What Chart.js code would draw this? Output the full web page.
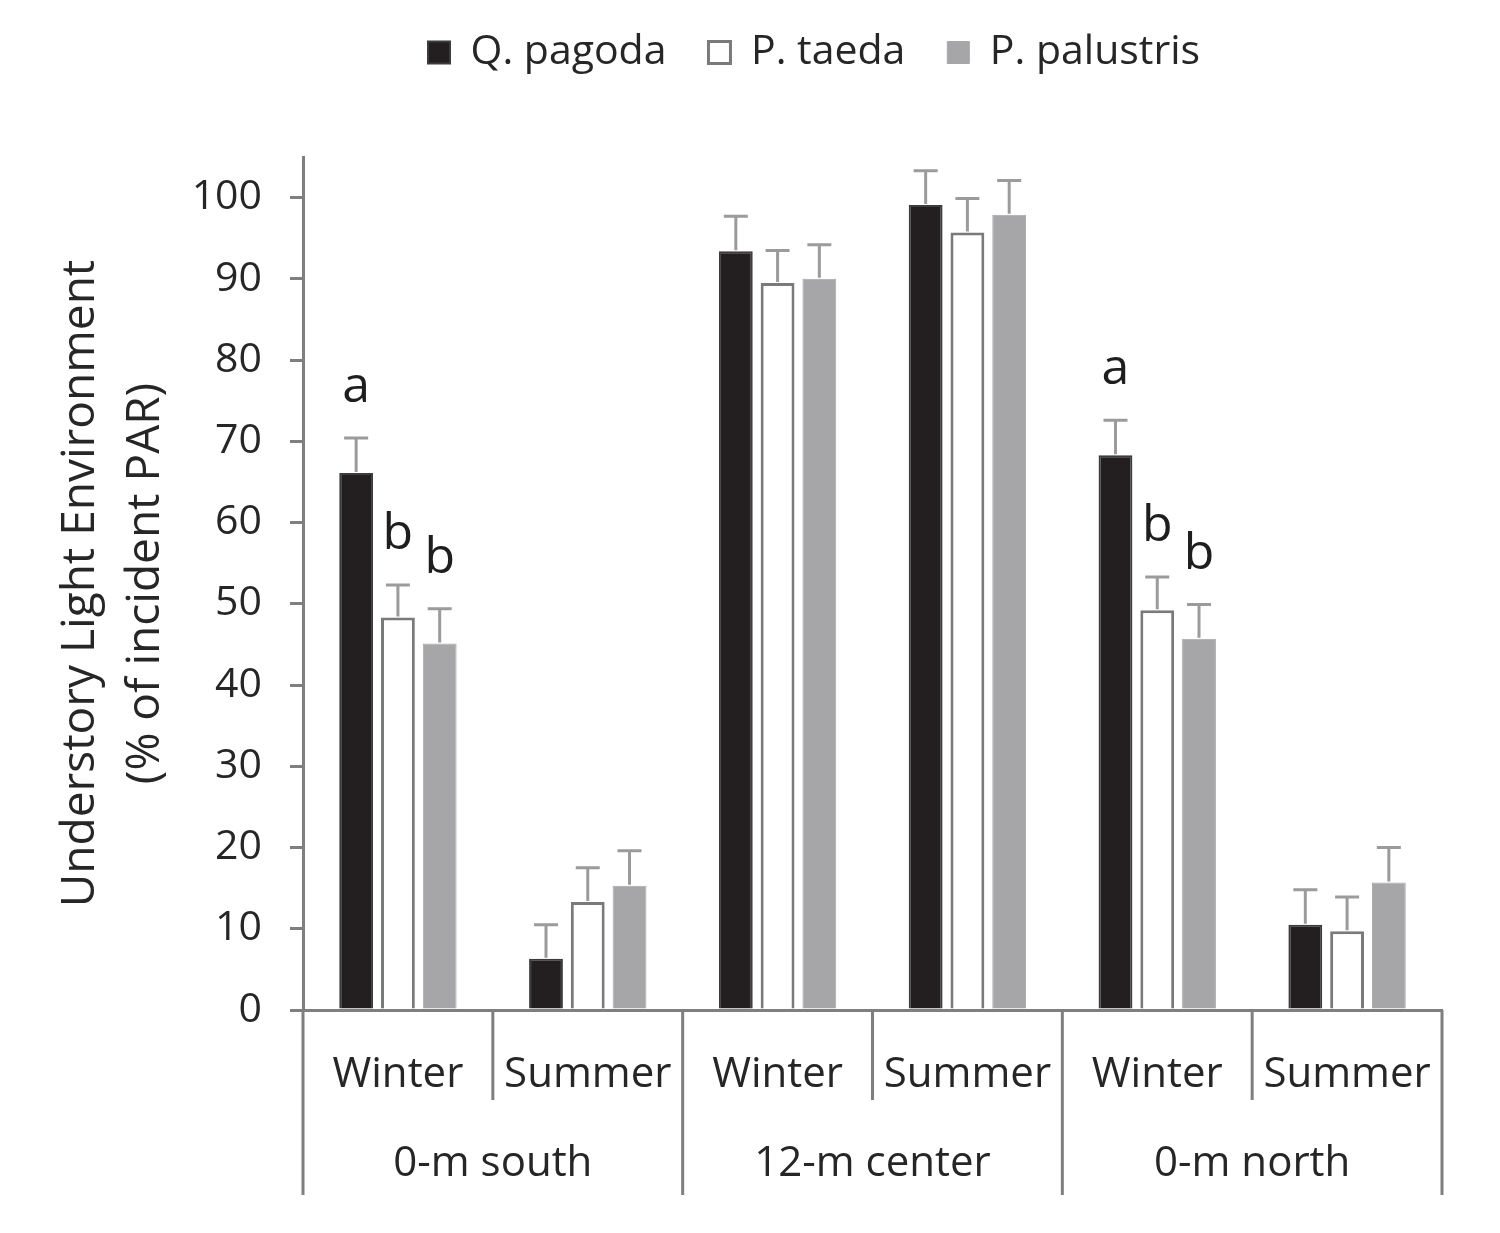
<!DOCTYPE html>
<html><head><meta charset="utf-8">
<script src="https://cdn.jsdelivr.net/npm/chart.js@4.4.1/dist/chart.umd.min.js"></script>
<style>html,body{margin:0;padding:0;background:#fff;}canvas{display:block;}</style>
</head><body>
<canvas id="c" width="1500" height="1233"></canvas>
<script>
const seasons = ["Winter","Summer","Winter","Summer","Winter","Summer"];
const groups = ["0-m south","12-m center","0-m north"];
const seriesNames = ["Q. pagoda","P. taeda","P. palustris"];
const qPagoda    = [66.1, 6.3, 93.4, 99.1, 68.3, 10.5];
const pTaeda     = [48.3, 13.3, 89.5, 95.7, 49.2, 9.7];
const pPalustris = [45.1, 15.3, 90.0, 97.9, 45.7, 15.7];
const qPagodaErr    = [4.3, 4.2, 4.3, 4.2, 4.3, 4.3];
const pTaedaErr     = [4.0, 4.2, 4.0, 4.2, 4.1, 4.2];
const pPalustrisErr = [4.3, 4.3, 4.2, 4.2, 4.2, 4.3];
const qPagodaLetters    = ["a","","","","a",""];
const pTaedaLetters     = ["b","","","","b",""];
const pPalustrisLetters = ["b","","","","b",""];
const yTicks = [0,10,20,30,40,50,60,70,80,90,100];

const FONT = "'Open Sans', 'DejaVu Sans', sans-serif";
const W = 500;
const TXT = '#262626';
const AXIS = '#7f7f7f';

const extras = {
  id: 'extras',
  afterLayout(chart) {
    const lg = chart.legend;
    if (lg) {
      const dy = -74;
      lg.top += dy; lg.bottom += dy;
      const pad = lg.options.labels.padding;
      const cur = (lg.left + pad + lg.right - lg.lineWidths[0]) / 2;
      const dx = 428 - cur;
      lg.left += dx; lg.right += dx;
    }
  },
  afterDatasetsDraw(chart) {
    const ctx = chart.ctx, y = chart.scales.y;
    ctx.save();
    chart.data.datasets.forEach((ds, di) => {
      const meta = chart.getDatasetMeta(di);
      meta.data.forEach((bar, i) => {
        const top = y.getPixelForValue(ds.data[i] + ds.errorBars[i]);
        ctx.strokeStyle = '#9b9b9b';
        ctx.lineWidth = 3;
        ctx.beginPath();
        ctx.moveTo(bar.x, bar.y - 1);
        ctx.lineTo(bar.x, top);
        ctx.moveTo(bar.x - 12, top);
        ctx.lineTo(bar.x + 12, top);
        ctx.stroke();
        const letter = ds.letters[i];
        if (letter) {
          ctx.fillStyle = '#1e1e1e';
          ctx.font = W + " 50px " + FONT;
          ctx.textAlign = 'center';
          ctx.textBaseline = 'alphabetic';
          ctx.fillText(letter, bar.x, top - 36);
        }
      });
    });
    ctx.restore();
  },
  afterDraw(chart) {
    const ctx = chart.ctx, x = chart.scales.x;
    const base = chart.chartArea.bottom;
    const step = x.getPixelForValue(1) - x.getPixelForValue(0);
    ctx.save();
    ctx.strokeStyle = AXIS;
    ctx.lineWidth = 3;
    for (let k = 0; k <= seasons.length; k++) {
      const bx = x.getPixelForValue(0) - step / 2 + k * step;
      const longLine = k % 2 === 0;
      ctx.beginPath();
      ctx.moveTo(bx, base);
      ctx.lineTo(bx, base + (longLine ? 185 : 90));
      ctx.stroke();
    }
    ctx.fillStyle = TXT;
    ctx.font = W + " 42px " + FONT;
    ctx.textAlign = 'center';
    ctx.textBaseline = 'middle';
    groups.forEach((g, gi) => {
      const cx = (x.getPixelForValue(gi * 2) + x.getPixelForValue(gi * 2 + 1)) / 2;
      ctx.fillText(g, cx, base + 154);
    });
    ctx.restore();
  }
};

new Chart(document.getElementById('c'), {
  type: 'bar',
  data: {
    labels: seasons,
    datasets: [
      { label: seriesNames[0], data: qPagoda, errorBars: qPagodaErr, letters: qPagodaLetters,
        backgroundColor: '#231f20', borderColor: '#3c3c3c', borderWidth: 2 },
      { label: seriesNames[1], data: pTaeda, errorBars: pTaedaErr, letters: pTaedaLetters,
        backgroundColor: '#ffffff', borderColor: '#7a7a7a', borderWidth: 3 },
      { label: seriesNames[2], data: pPalustris, errorBars: pPalustrisErr, letters: pPalustrisLetters,
        backgroundColor: '#a6a6a8', borderColor: '#a6a6a8', borderWidth: 1 }
    ]
  },
  options: {
    responsive: false,
    animation: false,
    devicePixelRatio: 1,
    layout: { padding: { top: 64, right: 58, left: 0, bottom: 0 } },
    datasets: { bar: { categoryPercentage: 0.66, barPercentage: 0.81 } },
    plugins: {
      tooltip: { enabled: false },
      legend: {
        position: 'top',
        labels: {
          boxWidth: 22, boxHeight: 22, padding: 42,
          color: TXT, font: { family: FONT, size: 41, weight: W }
        }
      }
    },
    scales: {
      x: {
        type: 'category',
        grid: { display: false },
        border: { display: true, color: AXIS, width: 3 },
        ticks: { color: TXT, font: { family: FONT, size: 42, weight: W }, padding: 32, maxRotation: 0 },
        afterFit(scale) { scale.height = 223; }
      },
      y: {
        min: 0, max: 105,
        afterBuildTicks(scale) { scale.ticks = yTicks.map(v => ({ value: v })); },
        grid: { display: true, drawOnChartArea: false, drawTicks: true, tickLength: 13, color: AXIS, lineWidth: 3 },
        border: { display: true, color: AXIS, width: 3 },
        ticks: { color: TXT, font: { family: FONT, size: 41, weight: W }, padding: 28 },
        title: {
          display: true,
          text: ["Understory Light Environment", "(% of incident PAR)"],
          color: TXT, font: { family: FONT, size: 46, lineHeight: 1.42, weight: W },
          padding: { top: 48, bottom: 0 }
        },
        afterFit(scale) { scale.width = 303; }
      }
    }
  },
  plugins: [extras]
});
</script>
</body></html>
